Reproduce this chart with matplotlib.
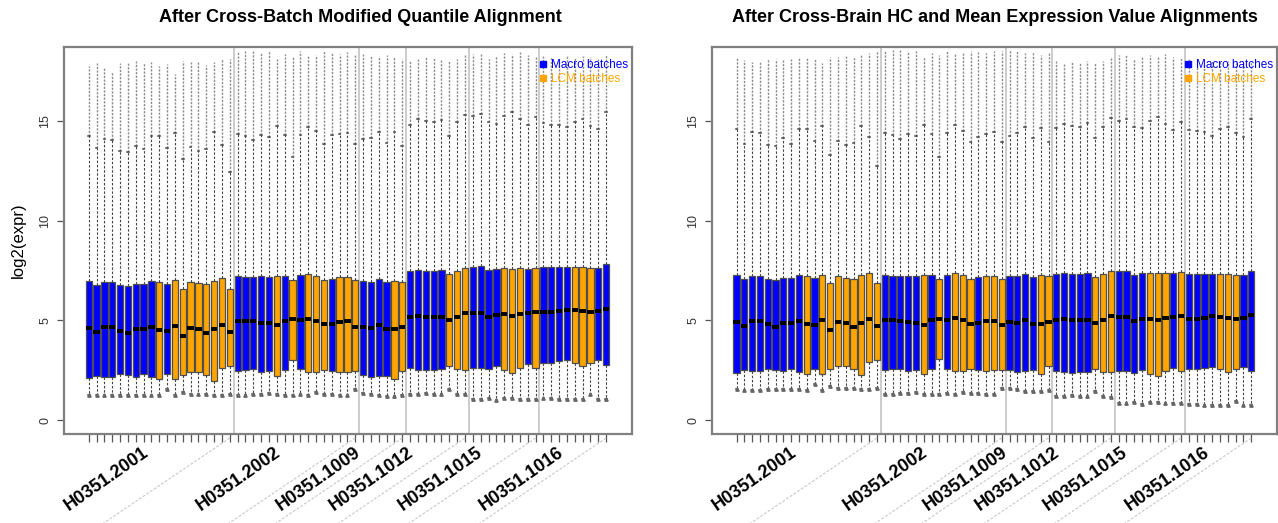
import numpy as np
import matplotlib
matplotlib.use("Agg")
import matplotlib.pyplot as plt
from matplotlib.lines import Line2D
from matplotlib.transforms import IdentityTransform

plt.rcParams['font.family'] = ['Liberation Sans', 'DejaVu Sans']

# sample groups (brains) and batch type per sample: 1 = Macro, 0 = LCM
groups = ['H0351.2001', 'H0351.2002', 'H0351.1009', 'H0351.1012', 'H0351.1015', 'H0351.1016']
group_sizes = [19, 16, 6, 8, 9, 9]
batch = ([1]*9 + [0] + [1] + [0]*8 +
         [1]*5 + [0, 1, 0, 1, 0, 0, 0, 1, 0, 0, 0] +
         [1]*4 + [0]*2 +
         [1]*5 + [0]*3 +
         [1]*4 + [0]*3 + [1, 0] +
         [1]*4 + [0]*3 + [1]*2)

# ---- left panel: after quantile alignment
q1_a = [2.12, 2.23, 2.17, 2.18, 2.30, 2.25, 2.18, 2.30, 2.15, 2.05, 2.30, 2.07, 2.28, 2.43, 2.43, 2.27, 1.97, 2.63, 2.73,
        2.48, 2.50, 2.57, 2.42, 2.47, 2.23, 2.52, 3.03, 2.55, 2.42, 2.42, 2.50, 2.47, 2.43, 2.43, 2.47,
        2.25, 2.17, 2.23, 2.22, 2.08, 2.45,
        2.60, 2.53, 2.52, 2.53, 2.57, 2.70, 2.57, 2.53,
        2.63, 2.63, 2.58, 2.70, 2.53, 2.38, 2.63, 2.80, 2.63,
        2.87, 2.87, 2.97, 3.02, 2.87, 2.73, 2.88, 3.00, 2.78]
med_a = [4.63, 4.43, 4.67, 4.67, 4.48, 4.37, 4.55, 4.58, 4.67, 4.50, 4.47, 4.70, 4.22, 4.63, 4.55, 4.37, 4.58, 4.78, 4.42,
         4.95, 4.97, 4.97, 4.88, 4.85, 4.75, 4.98, 5.05, 5.00, 5.07, 4.97, 4.80, 4.83, 4.90, 4.95, 4.68,
         4.65, 4.60, 4.78, 4.58, 4.58, 4.65,
         5.18, 5.22, 5.17, 5.18, 5.18, 5.00, 5.18, 5.35,
         5.37, 5.38, 5.15, 5.28, 5.30, 5.22, 5.33, 5.37, 5.42,
         5.42, 5.40, 5.47, 5.52, 5.50, 5.45, 5.40, 5.47, 5.57]
q3_a = [6.97, 6.77, 6.93, 6.93, 6.77, 6.73, 6.82, 6.82, 6.98, 6.93, 6.83, 7.00, 6.57, 6.92, 6.85, 6.80, 6.97, 7.10, 6.58,
        7.22, 7.18, 7.15, 7.20, 7.17, 7.23, 7.22, 7.03, 7.25, 7.32, 7.23, 7.03, 7.08, 7.17, 7.18, 7.00,
        6.97, 6.93, 7.07, 6.90, 6.98, 6.92,
        7.48, 7.52, 7.47, 7.48, 7.52, 7.32, 7.48, 7.62,
        7.67, 7.70, 7.50, 7.57, 7.60, 7.58, 7.60, 7.57, 7.63,
        7.67, 7.67, 7.68, 7.67, 7.68, 7.67, 7.60, 7.63, 7.80]
lo_a = [1.25, 1.25, 1.25, 1.25, 1.25, 1.25, 1.25, 1.25, 1.25, 1.25, 1.55, 1.25, 1.40, 1.30, 1.30, 1.30, 1.25, 1.25, 1.30,
        1.25, 1.25, 1.30, 1.30, 1.35, 1.30, 1.25, 1.25, 1.30, 1.25, 1.40, 1.30, 1.30, 1.25, 1.25, 1.55,
        1.35, 1.30, 1.25, 1.20, 1.20, 1.25,
        1.30, 1.30, 1.35, 1.30, 1.30, 1.55, 1.30, 1.30,
        1.05, 1.05, 1.10, 1.00, 1.10, 1.10, 1.05, 1.05, 1.05,
        1.10, 1.10, 1.05, 1.05, 1.05, 1.05, 1.30, 1.05, 1.05]
hi_a = [14.25, 13.65, 14.10, 14.05, 13.50, 13.45, 13.75, 13.60, 14.25, 14.25, 13.65, 14.40, 13.10, 13.70, 13.50, 13.60, 14.45, 13.80, 12.45,
        14.35, 14.25, 14.05, 14.30, 14.20, 14.75, 14.30, 13.20, 14.30, 14.70, 14.50, 13.85, 14.30, 14.35, 14.40, 13.85,
        14.10, 14.15, 14.45, 13.90, 14.45, 13.75,
        14.80, 15.10, 15.00, 14.95, 15.05, 14.25, 14.95, 15.30,
        15.25, 15.35, 14.95, 14.85, 15.25, 15.45, 15.10, 14.80, 15.20,
        14.90, 14.80, 14.80, 14.70, 14.95, 15.10, 14.75, 14.60, 15.45]
top_a = [17.75, 17.90, 17.65, 17.45, 17.90, 17.90, 18.00, 17.90, 17.95, 17.75, 17.85, 17.35, 18.00, 17.95, 18.00, 17.80, 17.95, 18.10, 18.10,
         18.45, 18.50, 18.50, 18.40, 18.50, 18.10, 18.35, 18.25, 18.50, 18.30, 18.30, 18.55, 18.40, 18.35, 18.45, 18.30,
         18.35, 18.30, 18.25, 18.30, 18.20, 18.10,
         18.00, 18.10, 18.20, 18.15, 18.10, 18.00, 18.10, 18.30,
         18.35, 18.40, 18.10, 18.25, 18.40, 18.35, 18.45, 18.30, 18.20,
         18.25, 18.20, 18.10, 18.30, 18.15, 18.25, 18.20, 18.10, 18.30]

# ---- right panel: after HC and mean expression alignment
q1_b = [2.38, 2.52, 2.45, 2.48, 2.58, 2.53, 2.48, 2.58, 2.42, 2.33, 2.58, 2.33, 2.58, 2.73, 2.72, 2.57, 2.25, 2.92, 3.00,
        2.53, 2.55, 2.58, 2.47, 2.50, 2.30, 2.57, 3.07, 2.58, 2.45, 2.45, 2.55, 2.50, 2.48, 2.50, 2.53,
        2.50, 2.42, 2.47, 2.50, 2.33, 2.70,
        2.47, 2.40, 2.38, 2.42, 2.40, 2.55, 2.42, 2.40,
        2.45, 2.45, 2.38, 2.50, 2.33, 2.20, 2.45, 2.60, 2.45,
        2.55, 2.55, 2.62, 2.68, 2.58, 2.42, 2.55, 2.67, 2.47]
med_b = [4.93, 4.73, 4.97, 4.97, 4.80, 4.67, 4.85, 4.88, 4.97, 4.80, 4.77, 5.00, 4.52, 4.93, 4.85, 4.65, 4.88, 5.07, 4.72,
         5.00, 5.00, 4.98, 4.90, 4.88, 4.78, 5.02, 5.08, 5.03, 5.12, 5.00, 4.83, 4.87, 4.95, 4.97, 4.75,
         4.92, 4.87, 5.03, 4.83, 4.83, 4.90,
         5.03, 5.08, 5.03, 5.03, 5.03, 4.87, 5.03, 5.23,
         5.17, 5.17, 4.95, 5.05, 5.08, 5.00, 5.13, 5.17, 5.23,
         5.08, 5.05, 5.13, 5.20, 5.17, 5.12, 5.05, 5.13, 5.25]
q3_b = [7.27, 7.05, 7.23, 7.23, 7.05, 7.00, 7.10, 7.10, 7.28, 7.22, 7.12, 7.28, 6.85, 7.22, 7.13, 7.07, 7.25, 7.38, 6.88,
        7.25, 7.23, 7.20, 7.22, 7.20, 7.27, 7.27, 7.08, 7.28, 7.35, 7.25, 7.07, 7.15, 7.22, 7.22, 7.08,
        7.20, 7.20, 7.33, 7.17, 7.25, 7.20,
        7.33, 7.37, 7.32, 7.32, 7.37, 7.17, 7.32, 7.47,
        7.45, 7.48, 7.28, 7.37, 7.38, 7.38, 7.37, 7.37, 7.42,
        7.32, 7.30, 7.30, 7.30, 7.33, 7.33, 7.28, 7.28, 7.47]
lo_b = [1.55, 1.50, 1.50, 1.50, 1.55, 1.55, 1.55, 1.55, 1.55, 1.50, 1.80, 1.50, 1.70, 1.60, 1.60, 1.60, 1.55, 1.55, 1.60,
        1.30, 1.30, 1.35, 1.35, 1.40, 1.30, 1.30, 1.30, 1.35, 1.30, 1.40, 1.35, 1.35, 1.30, 1.30, 1.60,
        1.60, 1.55, 1.45, 1.45, 1.45, 1.50,
        1.20, 1.20, 1.25, 1.20, 1.20, 1.45, 1.20, 1.15,
        0.85, 0.85, 0.90, 0.80, 0.90, 0.90, 0.85, 0.85, 0.85,
        0.80, 0.80, 0.75, 0.75, 0.75, 0.75, 0.95, 0.75, 0.75]
hi_b = [14.58, 13.83, 14.42, 14.37, 13.78, 13.72, 14.13, 13.83, 14.58, 14.58, 13.97, 14.75, 13.30, 14.00, 13.80, 13.87, 14.75, 14.17, 12.75,
        14.37, 14.28, 14.08, 14.33, 14.25, 14.78, 14.33, 13.17, 14.37, 14.80, 14.50, 13.92, 14.17, 14.33, 14.42, 13.92,
        14.25, 14.37, 14.67, 14.13, 14.63, 13.95,
        14.62, 14.83, 14.75, 14.67, 14.87, 14.12, 14.70, 15.13,
        15.00, 15.08, 14.70, 14.63, 15.00, 15.20, 14.83, 14.53, 14.92,
        14.55, 14.50, 14.42, 14.25, 14.58, 14.67, 14.37, 14.20, 15.08]
top_b = [18.15, 18.05, 17.95, 17.95, 18.10, 18.10, 18.05, 18.10, 18.20, 18.15, 18.10, 17.90, 18.20, 18.20, 18.25, 18.20, 18.30, 18.40, 18.50,
         18.50, 18.55, 18.55, 18.50, 18.50, 18.20, 18.40, 18.30, 18.55, 18.35, 18.40, 18.50, 18.45, 18.40, 18.50, 18.50,
         18.55, 18.50, 18.40, 18.45, 18.30, 18.40,
         18.00, 17.90, 18.00, 17.95, 18.00, 17.90, 18.00, 18.20,
         18.30, 18.35, 18.10, 18.20, 18.30, 18.25, 18.35, 18.20, 18.15,
         18.10, 18.00, 17.90, 18.05, 17.95, 18.00, 17.90, 17.85, 18.00]

titles = ['After Cross-Batch Modified Quantile Alignment',
          'After Cross-Brain HC and Mean Expression Value Alignments']

MACRO = '#0000ff'
LCM = '#ffa500'
n = len(batch)
pos = np.arange(1, n + 1)
ends = np.cumsum(group_sizes)           # last sample of each brain
label_x = [8.8, 25.6, 35.8, 42.5, 51.3, 61.7]

fig = plt.figure(figsize=(12.78, 5.23), dpi=100)
ax1 = fig.add_axes([64/1278, 89/523, 568/1278, 387/523])
ax2 = fig.add_axes([712/1278, 89/523, 565/1278, 387/523])


def draw_panel(ax, q1, med, q3, lo, hi, top, title, title_x, ylabel):
    stats = []
    for i in range(n):
        stats.append(dict(q1=q1[i], med=med[i], q3=q3[i], whislo=lo[i], whishi=hi[i], fliers=[]))
    bp = ax.bxp(stats, positions=pos, widths=0.8, patch_artist=True, showfliers=False,
                manage_ticks=False, capwidths=0.22,
                boxprops=dict(edgecolor='#505050', linewidth=0.9),
                medianprops=dict(color='black', linewidth=2.8, solid_capstyle='butt'),
                whiskerprops=dict(color='#444444', linewidth=0.8, linestyle=(0, (2.2, 1.6))),
                capprops=dict(color='#444444', linewidth=1.1))
    for patch, b in zip(bp['boxes'], batch):
        patch.set_facecolor(MACRO if b == 1 else LCM)
    # outlier columns above the upper whisker, points at the bottom
    ax.vlines(pos, hi, top, colors='#8c8c8c', linewidth=1.0, linestyles=(0, (1.6, 1.0)), zorder=1)
    ax.plot(pos, lo, linestyle='none', marker='^', markersize=2.4, color='#666666')

    # brain separators
    for e in ends[:-1]:
        ax.axvline(e + 0.5, color='#c4c4c4', linewidth=1.2, zorder=0)

    ax.set_xlim(-2.15, 70.3)
    ax.set_ylim(-0.70, 18.70)
    ax.set_xticks(pos)
    ax.set_xticklabels([])
    ax.tick_params(axis='x', length=6, width=0.9, color='#555555')
    ax.set_yticks([0, 5, 10, 15])
    ax.tick_params(axis='y', length=5, width=0.9, color='#555555', labelsize=9,
                   labelcolor='#333333', pad=4)
    for lbl in ax.get_yticklabels():
        lbl.set_rotation(90)
        lbl.set_va('center')
    for sp in ax.spines.values():
        sp.set_color('#808080')
        sp.set_linewidth(1.6)

    for gx, name in zip(label_x, groups):
        ax.text(gx, -0.054, name, transform=ax.get_xaxis_transform(), rotation=35,
                rotation_mode='anchor', ha='right', va='baseline', fontsize=13,
                fontweight='bold', clip_on=False)

    # light dashed guide lines from the last sample of every brain
    for e in ends:
        sx, sy = ax.transData.transform((e, 0))
        sy = 523 - 438
        ang = np.deg2rad(34)
        fig.add_artist(Line2D([sx, sx - 260*np.cos(ang)], [sy, sy - 260*np.sin(ang)],
                              transform=IdentityTransform(), color='#c8c8c8',
                              linewidth=0.8, linestyle=(0, (2.5, 1.5))))

    ax.text(title_x, 1.0 + 30/387, title, transform=ax.transAxes, ha='center', va='center',
            fontsize=13, fontweight='bold')
    if ylabel:
        ax.set_ylabel(ylabel, fontsize=12, labelpad=10)

    handles = [Line2D([], [], linestyle='none', marker='s', markersize=4.5, color=MACRO),
               Line2D([], [], linestyle='none', marker='s', markersize=4.5, color=LCM)]
    ax.legend(handles, ['Macro batches', 'LCM batches'], loc='upper left',
              bbox_to_anchor=(0.822, 0.99), frameon=False, fontsize=8.5,
              labelcolor=[MACRO, LCM], handlelength=0.6, handletextpad=0.4,
              borderpad=0.2, labelspacing=0.15)


draw_panel(ax1, q1_a, med_a, q3_a, lo_a, hi_a, top_a, titles[0], 0.521, 'log2(expr)')
draw_panel(ax2, q1_b, med_b, q3_b, lo_b, hi_b, top_b, titles[1], 0.5, None)

fig.savefig('out.png', dpi=100)
